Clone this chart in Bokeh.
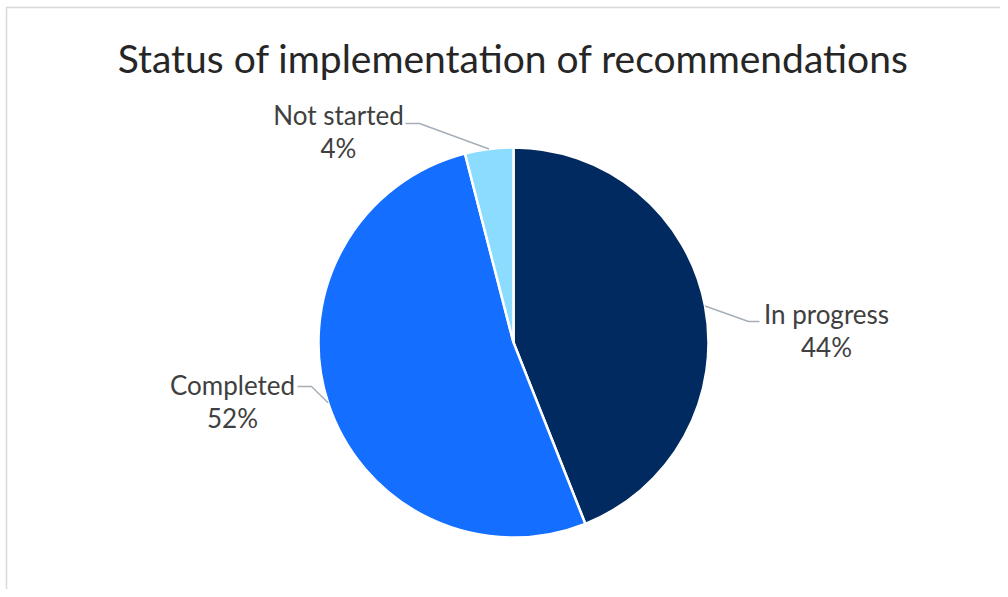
import numpy as np
from bokeh.plotting import figure
from bokeh.models import Range1d
from bokeh.core.properties import value
from bokeh.embed import file_html
from bokeh.resources import INLINE

title_text = "Status of implementation of recommendations"
categories = ["In progress", "Completed", "Not started"]
percents = [44, 52, 4]
colors = ["#002A60", "#146EFF", "#8CDCFF"]

W, H = 1000, 589
FONT = "Lato"

def px(xp):
    return xp

def py(yp):
    return H - yp

cx, cy, R = px(513), py(342), 195

p = figure(width=W, height=H, output_backend="svg", toolbar_location=None,
           x_range=Range1d(0, W), y_range=Range1d(0, H), min_border=0)
p.axis.visible = False
p.grid.visible = False
p.outline_line_color = None

# chart area border (top and left edges visible in reference)
p.line([px(6), px(6), px(W + 20)], [py(H + 20), py(7), py(7)],
       line_color="#D9D9D9", line_width=1.5)

vals = np.array(percents, dtype=float)
frac = vals / vals.sum()
ends = np.pi / 2 - np.concatenate([[0], np.cumsum(frac)[:-1]]) * 2 * np.pi
starts = ends - frac * 2 * np.pi
mids = (starts + ends) / 2

p.wedge(x=[cx] * 3, y=[cy] * 3, radius=R, start_angle=list(starts), end_angle=list(ends),
        fill_color=colors, line_color="white", line_width=2.5)

# label layout (elbow point, horizontal end, text center) per slice in picture px
elbows = [(748, 321), (311, 386), (419, 123)]
hends = [(759, 321), (297, 386), (405, 123)]
txt_pos = [(826, 313), (232, 384), (338, 114)]

for i in range(3):
    sx = cx + R * np.cos(mids[i])
    sy = cy + R * np.sin(mids[i])
    p.line([sx, px(elbows[i][0]), px(hends[i][0])],
           [sy, py(elbows[i][1]), py(hends[i][1])],
           line_color="#A6AEB8", line_width=1.5)
    tx, ty = txt_pos[i]
    p.text(x=[px(tx)], y=[py(ty)], text=[categories[i]], text_align="center",
           text_baseline="middle", text_font=value(FONT), text_font_size="26px",
           text_color="#404040")
    p.text(x=[px(tx)], y=[py(ty + 33)], text=[f"{percents[i]}%"], text_align="center",
           text_baseline="middle", text_font=value(FONT), text_font_size="26px",
           text_color="#404040")

p.text(x=[px(513)], y=[py(57)], text=[title_text], text_align="center",
       text_baseline="middle", text_font=value(FONT), text_font_size="39px",
       text_color="#262626")

open("out.html", "w").write(file_html(p, INLINE))
